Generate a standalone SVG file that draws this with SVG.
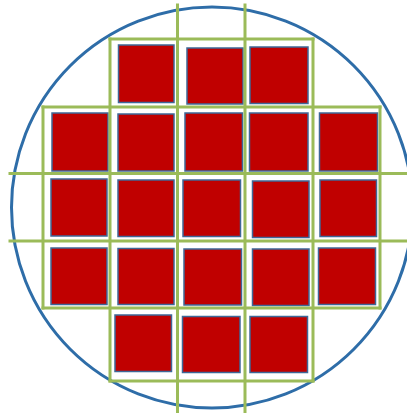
<svg xmlns="http://www.w3.org/2000/svg" width="407" height="413" viewBox="0 0 407 413">
  <style>
    .wafer { fill: none; stroke: #2E6DA8; stroke-width: 3; }
    .grid line { stroke: #9BBB59; stroke-width: 3; stroke-linecap: square; }
    .die { fill: #C00000; stroke: #3E6898; stroke-width: 1.5; }
  </style>
  <rect width="407" height="413" fill="#FFFFFF"/>
  <circle class="wafer" cx="212" cy="207.5" r="200.5"/>
  <g class="dies">
    <rect class="die" x="118.5" y="45" width="55.5" height="57.5"/>
    <rect class="die" x="187" y="48" width="56" height="56"/>
    <rect class="die" x="250" y="47" width="58" height="56.5"/>

    <rect class="die" x="52" y="113" width="56" height="58"/>
    <rect class="die" x="118" y="114" width="56" height="57"/>
    <rect class="die" x="185" y="113" width="57.5" height="58"/>
    <rect class="die" x="249.5" y="113" width="58.5" height="58"/>
    <rect class="die" x="319.5" y="113" width="58" height="58"/>

    <rect class="die" x="51" y="179" width="56" height="57"/>
    <rect class="die" x="118" y="180" width="56" height="56.5"/>
    <rect class="die" x="183" y="180" width="57.5" height="56.5"/>
    <rect class="die" x="252.5" y="181" width="56.5" height="56.5"/>
    <rect class="die" x="320" y="180" width="56.5" height="56.5"/>

    <rect class="die" x="51" y="248" width="56" height="56.5"/>
    <rect class="die" x="118" y="248.5" width="56" height="56"/>
    <rect class="die" x="184" y="249" width="57.5" height="56"/>
    <rect class="die" x="252.5" y="249" width="56.5" height="56.5"/>
    <rect class="die" x="318.5" y="248" width="57" height="56.5"/>

    <rect class="die" x="115" y="315" width="56.5" height="56.5"/>
    <rect class="die" x="182.5" y="316.5" width="57.5" height="56"/>
    <rect class="die" x="250" y="316.5" width="57.5" height="56"/>
  </g>
  <g class="grid">
    <line x1="177.5" y1="5" x2="177.5" y2="413"/>
    <line x1="245" y1="5" x2="245" y2="413"/>
    <line x1="110" y1="39" x2="110" y2="381"/>
    <line x1="313" y1="39" x2="313" y2="381"/>
    <line x1="43" y1="107" x2="43" y2="308"/>
    <line x1="380" y1="107" x2="380" y2="308"/>
    <line x1="110" y1="39" x2="313" y2="39"/>
    <line x1="43" y1="107" x2="380" y2="107"/>
    <line x1="10" y1="173.5" x2="407" y2="173.5"/>
    <line x1="10" y1="241" x2="407" y2="241"/>
    <line x1="43" y1="308" x2="380" y2="308"/>
    <line x1="110" y1="381" x2="313" y2="381"/>
  </g>
</svg>
